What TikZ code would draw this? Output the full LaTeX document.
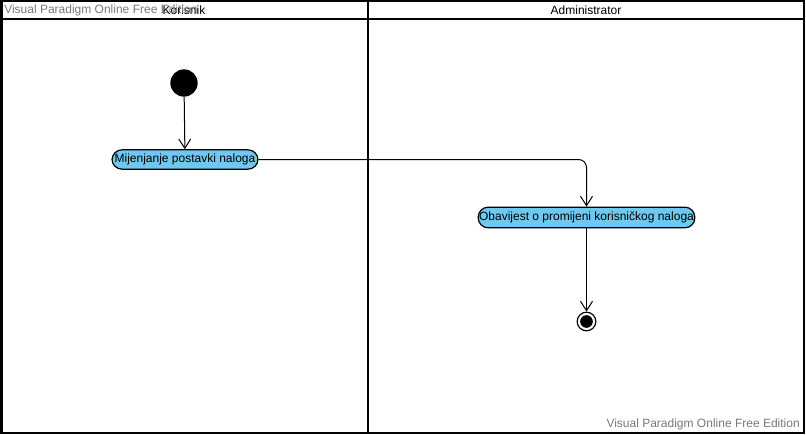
\documentclass[tikz,border=0pt]{standalone}
\usepackage{fontspec}
\setmainfont{Liberation Sans}
\usetikzlibrary{arrows.meta}
\definecolor{actfill}{RGB}{110,200,240}
\definecolor{wmgray}{RGB}{120,120,120}
\begin{document}
\begin{tikzpicture}[x=0.75pt,y=-0.75pt,
  lane/.style={draw=black,line width=1.5pt},
  action/.style={draw=black,fill=actfill,line width=0.9pt,rounded corners=7.5pt,
    inner sep=0pt,font=\fontsize{9}{10}\selectfont},
  flow/.style={draw=black,line width=0.75pt,-{Straight Barb[length=7pt,width=9pt]}},
  title/.style={font=\fontsize{9}{10}\selectfont,inner sep=0pt},
  watermark/.style={font=\fontsize{9}{10}\selectfont,text=wmgray,inner sep=0pt}]
\useasboundingbox (0,0) rectangle (806,435);
% swimlanes
\draw[lane] (1.5,1.5) rectangle (803.5,433);
\draw[lane] (1.5,19) -- (803.5,19);
\draw[lane] (368,1.5) -- (368,433);
\node[title] (lk) at (184,10) {Korisnik};
\node[title] (la) at (586,10) {Administrator};
\node[watermark,anchor=west] (wm1) at (4,10.5) {Visual Paradigm Online Free Edition};
\node[watermark,anchor=east] (wm2) at (800,424) {Visual Paradigm Online Free Edition};
% nodes
\node[circle,fill=black,minimum size=20.5pt*0.75/0.75,inner sep=0pt] (start) at (184,83) {};
\node[action,minimum width=109.5pt,minimum height=14.5pt] (a1) at (185,159.5) {Mijenjanje postavki naloga};
\node[action,minimum width=162.5pt,minimum height=15.5pt] (a2) at (586.5,217.5) {Obavijest o promijeni korisničkog naloga};
\node[circle,draw=black,line width=0.9pt,fill=white,minimum size=14pt,inner sep=0pt] (end) at (586.5,321.5) {};
\node[circle,fill=black,minimum size=9.5pt,inner sep=0pt] (endin) at (end.center) {};
% flows
\draw[flow] (start) -- (a1);
\draw[flow,rounded corners=6pt] (a1.east) -| (a2.north);
\draw[flow] (a2) -- (end);
\end{tikzpicture}
\end{document}
